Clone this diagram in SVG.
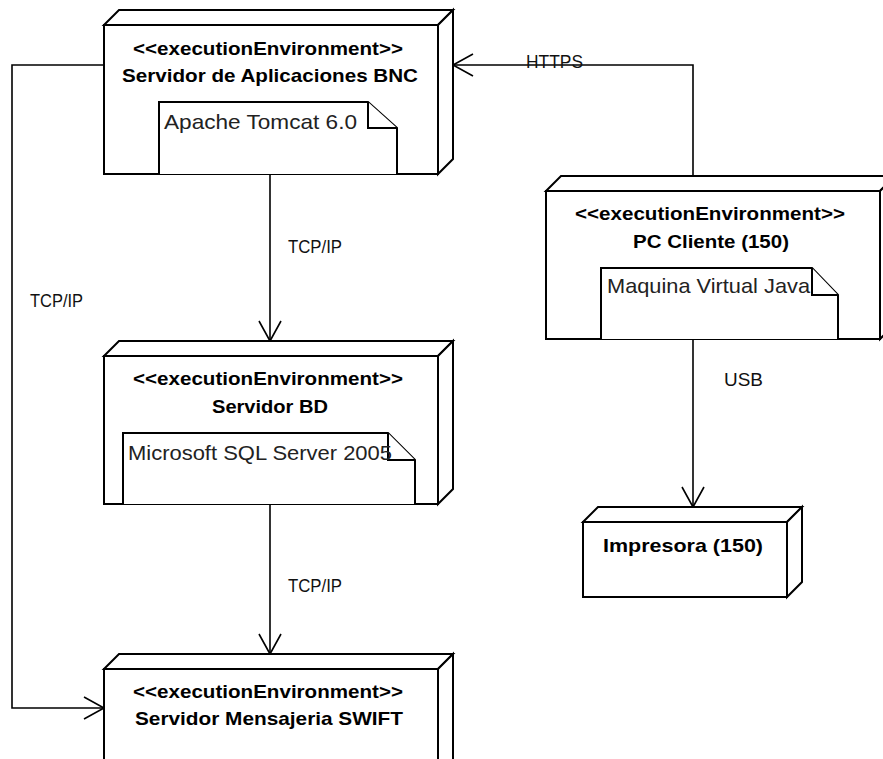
<svg xmlns="http://www.w3.org/2000/svg" width="883" height="759" viewBox="0 0 883 759">
<style>
.face{fill:#fff;stroke:#000;stroke-width:2;stroke-linejoin:miter}
.note{fill:#fff;stroke:#000;stroke-width:2}
.b{font-family:"Liberation Sans",Arial,sans-serif;font-weight:bold;font-size:18.5px;fill:#000}
.r{font-family:"Liberation Sans",Arial,sans-serif;font-size:21px;fill:#222}
.lbl{font-family:"Liberation Sans",Arial,sans-serif;font-size:19px;fill:#111}
.conn{fill:none;stroke:#000;stroke-width:1.6}
</style>
<defs>
<marker id="arr" markerUnits="userSpaceOnUse" orient="auto" markerWidth="30" markerHeight="30" viewBox="-25 -15 30 30" refX="0" refY="0" overflow="visible">
<path d="M-20,-11 L0,0 L-20,11" fill="none" stroke="#000" stroke-width="1.6"/>
</marker>
</defs>
<rect width="883" height="759" fill="#fff"/>

<g id="connectors">
<path class="conn" d="M270,174 L270,341" marker-end="url(#arr)"/>
<path class="conn" d="M270,504 L270,654" marker-end="url(#arr)"/>
<path class="conn" d="M104,65 L12,65 L12,708 L104,708" marker-end="url(#arr)"/>
<path class="conn" d="M693,176 L693,65 L453,65" marker-end="url(#arr)"/>
<path class="conn" d="M693,339 L693,507" marker-end="url(#arr)"/>
<text class="lbl" x="288" y="253" textLength="54" lengthAdjust="spacingAndGlyphs">TCP/IP</text>
<text class="lbl" x="288" y="592" textLength="54" lengthAdjust="spacingAndGlyphs">TCP/IP</text>
<text class="lbl" x="30" y="307" textLength="53" lengthAdjust="spacingAndGlyphs">TCP/IP</text>
<text class="lbl" x="526" y="68" textLength="57" lengthAdjust="spacingAndGlyphs">HTTPS</text>
<text class="lbl" x="724" y="386" textLength="39" lengthAdjust="spacingAndGlyphs">USB</text>
</g>

<g id="node-app">
<path class="face" d="M104,25 L119,10 L453,10 L438,25 Z"/>
<path class="face" d="M438,25 L453,10 L453,159 L438,174 Z"/>
<rect class="face" x="104" y="25" width="334" height="149"/>
<text class="b" x="268" y="55" text-anchor="middle" textLength="270" lengthAdjust="spacingAndGlyphs">&lt;&lt;executionEnvironment&gt;&gt;</text>
<text class="b" x="270" y="82" text-anchor="middle" textLength="296" lengthAdjust="spacingAndGlyphs">Servidor de Aplicaciones BNC</text>
<path class="note" d="M159,174 L159,102 L368,102 L397,128 L397,174"/>
<path class="note" d="M368,102 L368,128 L397,128" fill="none"/>
<text class="r" x="164" y="129" textLength="193" lengthAdjust="spacingAndGlyphs">Apache Tomcat 6.0</text>
</g>

<g id="node-bd">
<path class="face" d="M104,356 L119,341 L453,341 L438,356 Z"/>
<path class="face" d="M438,356 L453,341 L453,489 L438,504 Z"/>
<rect class="face" x="104" y="356" width="334" height="148"/>
<text class="b" x="268" y="385" text-anchor="middle" textLength="270" lengthAdjust="spacingAndGlyphs">&lt;&lt;executionEnvironment&gt;&gt;</text>
<text class="b" x="270" y="413" text-anchor="middle" textLength="116" lengthAdjust="spacingAndGlyphs">Servidor BD</text>
<path class="note" d="M123,504 L123,433 L388,433 L415,460 L415,504"/>
<path class="note" d="M388,433 L388,460 L415,460" fill="none"/>
<text class="r" x="128" y="460" textLength="264" lengthAdjust="spacingAndGlyphs">Microsoft SQL Server 2005</text>
</g>

<g id="node-swift">
<path class="face" d="M104,669 L119,654 L453,654 L438,669 Z"/>
<path class="face" d="M438,669 L453,654 L453,790 L438,805 Z"/>
<rect class="face" x="104" y="669" width="334" height="136"/>
<text class="b" x="268" y="698" text-anchor="middle" textLength="270" lengthAdjust="spacingAndGlyphs">&lt;&lt;executionEnvironment&gt;&gt;</text>
<text class="b" x="269" y="725" text-anchor="middle" textLength="268" lengthAdjust="spacingAndGlyphs">Servidor Mensajeria SWIFT</text>
</g>

<g id="node-pc">
<path class="face" d="M546,191 L561,176 L895,176 L880,191 Z"/>
<path class="face" d="M880,191 L895,176 L895,324 L880,339 Z"/>
<rect class="face" x="546" y="191" width="334" height="148"/>
<text class="b" x="710" y="220" text-anchor="middle" textLength="270" lengthAdjust="spacingAndGlyphs">&lt;&lt;executionEnvironment&gt;&gt;</text>
<text class="b" x="711" y="248" text-anchor="middle" textLength="156" lengthAdjust="spacingAndGlyphs">PC Cliente (150)</text>
<path class="note" d="M601,339 L601,268 L812,268 L838,295 L838,339"/>
<path class="note" d="M812,268 L812,295 L838,295" fill="none"/>
<text class="r" x="607" y="293" textLength="203" lengthAdjust="spacingAndGlyphs">Maquina Virtual Java</text>
</g>

<g id="node-impresora">
<path class="face" d="M583,522 L598,507 L802,507 L787,522 Z"/>
<path class="face" d="M787,522 L802,507 L802,582 L787,597 Z"/>
<rect class="face" x="583" y="522" width="204" height="75"/>
<text class="b" x="603" y="552" textLength="160" lengthAdjust="spacingAndGlyphs">Impresora (150)</text>
</g>
</svg>
